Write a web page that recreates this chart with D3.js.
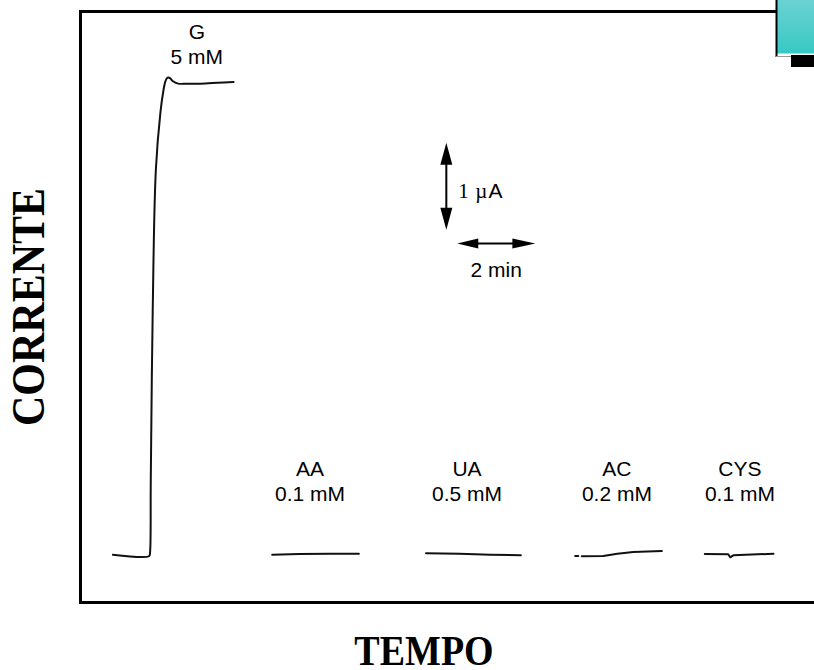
<!DOCTYPE html>
<html>
<head>
<meta charset="utf-8">
<script src="https://cdn.jsdelivr.net/npm/d3@7"></script>
<style>
  html, body { margin: 0; padding: 0; background: #fff; }
  svg { display: block; }
</style>
</head>
<body>
<svg id="chart" width="814" height="670"></svg>
<script>
// Amperometric responses: glucose and interferents (time in min, current in µA)
const gTime    = [0.83, 1.76, 1.78, 1.80, 1.85, 1.93, 2.05, 2.12, 2.17, 2.21, 2.25, 2.30, 2.36, 2.50, 2.74, 3.07, 3.51, 3.92];
const gCurrent = [0.00, -0.015, 0.02, 0.86, 2.82, 4.43, 5.10, 5.33, 5.44, 5.48, 5.49, 5.48, 5.45, 5.42, 5.42, 5.42, 5.43, 5.44];

const aaTime    = [4.91, 5.60, 6.40, 7.13];
const aaCurrent = [0.00, 0.008, 0.01, 0.01];

const uaTime    = [8.85, 9.70, 10.50, 11.28];
const uaCurrent = [0.016, 0.010, 0.000, -0.007];

const acTime    = [12.67, 12.75, 12.80, 12.84, 13.39, 13.75, 14.16, 14.89];
const acCurrent = [-0.015, -0.015, null, -0.018, -0.015, 0.012, 0.031, 0.043];

const cysTime    = [15.99, 16.59, 16.64, 16.72, 17.75];
const cysCurrent = [0.008, 0.005, -0.030, -0.007, 0.012];

// Additions
const analytes       = ["G", "AA", "UA", "AC", "CYS"];
const concentrations = ["5 mM", "0.1 mM", "0.5 mM", "0.2 mM", "0.1 mM"];
const labelTime      = [2.98, 5.88, 9.90, 13.74, 16.89];

// Scale bars
const currentBar = 1;   // µA
const timeBar = 2;      // min

const svg = d3.select("#chart");

const x = d3.scaleLinear().domain([0, 18.8]).range([80.5, 814.5]);
const y = d3.scaleLinear().domain([-0.55, 6.25]).range([602.5, 11.5]);

// Plot frame (left, top, bottom)
const frame = svg.append("g").attr("stroke", "#000").attr("stroke-width", 3).attr("fill", "none");
frame.append("line").attr("x1", 80.5).attr("x2", 80.5).attr("y1", 10).attr("y2", 604);
frame.append("line").attr("x1", 79).attr("x2", 777).attr("y1", 11.5).attr("y2", 11.5);
frame.append("line").attr("x1", 79).attr("x2", 814).attr("y1", 602.5).attr("y2", 602.5);

// Corner badge
const defs = svg.append("defs");
const grad = defs.append("linearGradient").attr("id", "badge").attr("x1", 0).attr("x2", 0).attr("y1", 0).attr("y2", 1);
grad.append("stop").attr("offset", "0%").attr("stop-color", "#6cd2d2");
grad.append("stop").attr("offset", "100%").attr("stop-color", "#37c8c4");
svg.append("rect").attr("x", 791).attr("y", 55).attr("width", 24).attr("height", 12).attr("fill", "#000");
svg.append("rect").attr("x", 777).attr("y", -1).attr("width", 38).attr("height", 54.5).attr("fill", "url(#badge)");
svg.append("line").attr("x1", 776.5).attr("x2", 776.5).attr("y1", 0).attr("y2", 57)
  .attr("stroke", "#000").attr("stroke-width", 2);
svg.append("line").attr("x1", 776).attr("x2", 791).attr("y1", 56.5).attr("y2", 56.5)
  .attr("stroke", "#999").attr("stroke-width", 1);

// Traces: the glucose step is smoothed, the flat interferent traces are straight segments
const toPoints = (t, c) => t.map((v, i) => [v, c[i]]);
const smooth = d3.line()
  .x(d => x(d[0]))
  .y(d => y(d[1]))
  .curve(d3.curveCatmullRom.alpha(0.5));
const straight = d3.line()
  .defined(d => d[1] !== null)
  .x(d => x(d[0]))
  .y(d => y(d[1]));

const traces = [
  {pts: toPoints(gTime, gCurrent), gen: smooth},
  {pts: toPoints(aaTime, aaCurrent), gen: straight},
  {pts: toPoints(uaTime, uaCurrent), gen: straight},
  {pts: toPoints(acTime, acCurrent), gen: straight},
  {pts: toPoints(cysTime, cysCurrent), gen: straight}
];

svg.append("g").selectAll("path")
  .data(traces)
  .join("path")
  .attr("d", d => d.gen(d.pts))
  .attr("fill", "none")
  .attr("stroke", "#111")
  .attr("stroke-width", 2)
  .attr("stroke-linejoin", "round")
  .attr("stroke-linecap", "round");

// Addition labels
const labelFont = "'Liberation Sans', Arial, sans-serif";
const labels = svg.append("g")
  .attr("font-family", labelFont)
  .attr("font-size", 21)
  .attr("text-anchor", "middle")
  .attr("fill", "#000");

analytes.forEach((name, i) => {
  const top = i === 0 ? 39 : 476;
  labels.append("text").attr("x", x(labelTime[i])).attr("y", top).text(name);
  labels.append("text").attr("x", x(labelTime[i])).attr("y", top + 25).text(concentrations[i]);
});

// Scale bars
function arrowHead(g, tipX, tipY, dx, dy, len, half) {
  // triangle pointing along (dx, dy)
  const bx = tipX - dx * len, by = tipY - dy * len;
  const px = -dy * half, py = dx * half;
  g.append("path")
    .attr("d", `M${tipX},${tipY}L${bx + px},${by + py}L${bx - px},${by - py}Z`)
    .attr("fill", "#000");
}

const bars = svg.append("g");
const vbX = x(9.37), vbTop = y(4.74), vbBot = y(4.74 - currentBar);
bars.append("line").attr("x1", vbX).attr("x2", vbX).attr("y1", vbTop + 10).attr("y2", vbBot - 10)
  .attr("stroke", "#000").attr("stroke-width", 2);
arrowHead(bars, vbX, vbTop, 0, -1, 22, 6);
arrowHead(bars, vbX, vbBot, 0, 1, 22, 6);

const hbY = y(3.58), hbL = x(9.65), hbR = x(9.65 + timeBar);
bars.append("line").attr("x1", hbL + 10).attr("x2", hbR - 10).attr("y1", hbY).attr("y2", hbY)
  .attr("stroke", "#000").attr("stroke-width", 2);
arrowHead(bars, hbL, hbY, -1, 0, 21, 5);
arrowHead(bars, hbR, hbY, 1, 0, 23, 5);

const uLabel = bars.append("text")
  .attr("x", vbX + 12).attr("y", 198)
  .attr("font-size", 21);
uLabel.append("tspan").attr("font-family", "'Liberation Serif', 'Times New Roman', serif").text(String(currentBar));
uLabel.append("tspan").attr("x", vbX + 29).attr("font-family", "'Liberation Serif', 'Times New Roman', serif").text("\u00b5");
uLabel.append("tspan").attr("font-family", labelFont).attr("dx", 1).text("A");

bars.append("text")
  .attr("x", (hbL + hbR) / 2).attr("y", 277)
  .attr("text-anchor", "middle")
  .attr("font-family", labelFont)
  .attr("font-size", 21)
  .text(timeBar + " min");

// Axis titles (slightly taller letterforms)
const titleFont = "'Liberation Serif', 'Times New Roman', serif";
svg.append("text")
  .attr("transform", "translate(44,307) rotate(-90) scale(1,1.12)")
  .attr("text-anchor", "middle")
  .attr("font-family", titleFont)
  .attr("font-weight", "bold")
  .attr("font-size", 42)
  .text("CORRENTE");

svg.append("text")
  .attr("transform", "translate(424,665) scale(1,1.1)")
  .attr("text-anchor", "middle")
  .attr("font-family", titleFont)
  .attr("font-weight", "bold")
  .attr("font-size", 38)
  .text("TEMPO");
</script>
</body>
</html>
